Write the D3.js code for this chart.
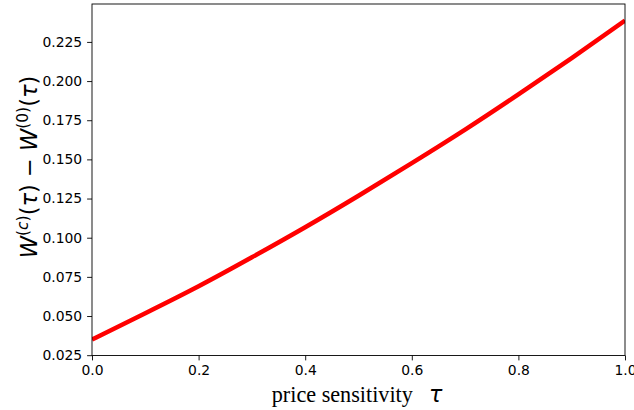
<!DOCTYPE html>
<html>
<head>
<meta charset="utf-8">
<script src="https://cdn.jsdelivr.net/npm/d3@7"></script>
<style>
  html, body { margin: 0; padding: 0; background: #fff; }
  svg { display: block; }
</style>
</head>
<body>
<svg id="chart" width="634" height="410"></svg>
<script>
// Data
const tau = [0.0, 0.1, 0.2, 0.3, 0.4, 0.5, 0.6, 0.7, 0.8, 0.9, 1.0];
const welfareDiff = [0.0350, 0.0518, 0.0690, 0.0875, 0.1067, 0.1268, 0.1476, 0.1690, 0.1915, 0.2147, 0.2386];
const xTicks = [0.0, 0.2, 0.4, 0.6, 0.8, 1.0];
const yTicks = [0.025, 0.050, 0.075, 0.100, 0.125, 0.150, 0.175, 0.200, 0.225];
const xDomain = [0, 1];
const yDomain = [0.0248, 0.2492];

const svg = d3.select("#chart");
const m = { left: 92, right: 625, top: 4, bottom: 355.5 };

const x = d3.scaleLinear().domain(xDomain).range([m.left, m.right]);
const y = d3.scaleLinear().domain(yDomain).range([m.bottom, m.top]);

// curve
const data = tau.map((t, i) => ({ t, v: welfareDiff[i] }));
const line = d3.line().x(d => x(d.t)).y(d => y(d.v)).curve(d3.curveNatural);

svg.append("defs").append("clipPath").attr("id", "clip")
  .append("rect").attr("x", m.left).attr("y", m.top)
  .attr("width", m.right - m.left).attr("height", m.bottom - m.top);

svg.append("path")
  .datum(data)
  .attr("clip-path", "url(#clip)")
  .attr("d", line)
  .attr("fill", "none")
  .attr("stroke", "#ff0000")
  .attr("stroke-width", 4.5)
  .attr("stroke-linecap", "butt");

// axes
const fontTick = "'DejaVu Sans', sans-serif";
const xAxis = d3.axisBottom(x).tickValues(xTicks).tickFormat(d3.format(".1f")).tickSize(4.9).tickPadding(4.9);
const yAxis = d3.axisLeft(y).tickValues(yTicks).tickFormat(d3.format(".3f")).tickSize(4.9).tickPadding(4.9);

const gx = svg.append("g").attr("transform", `translate(0,${m.bottom})`).call(xAxis);
const gy = svg.append("g").attr("transform", `translate(${m.left},0)`).call(yAxis);
[gx, gy].forEach(g => {
  g.select(".domain").remove();
  g.selectAll(".tick line").attr("stroke", "#000").attr("stroke-width", 0.9);
  g.selectAll(".tick text").attr("fill", "#000").style("font-family", fontTick).style("font-size", "13.9px");
});

// frame
svg.append("rect")
  .attr("x", m.left).attr("y", m.top)
  .attr("width", m.right - m.left).attr("height", m.bottom - m.top)
  .attr("fill", "none").attr("stroke", "#000").attr("stroke-width", 0.9);

// x label
const xl = svg.append("text")
  .attr("x", 357).attr("y", 402)
  .attr("text-anchor", "middle")
  .style("font-family", "'Liberation Serif', 'Times New Roman', serif")
  .style("font-size", "22.2px")
  .attr("fill", "#000");
xl.append("tspan").text("price sensitivity");
xl.append("tspan").attr("dx", 16)
  .style("font-family", "'DejaVu Sans', sans-serif")
  .style("font-style", "italic")
  .text("τ");

// y label
const yl = svg.append("text")
  .attr("transform", "translate(37,167) rotate(-90)")
  .attr("text-anchor", "middle")
  .style("font-family", "'DejaVu Sans', sans-serif")
  .style("font-size", "22.5px")
  .attr("fill", "#000");
const sup = 15.5;
yl.append("tspan").style("font-style", "italic").text("W");
yl.append("tspan").attr("dy", -9).style("font-size", sup + "px").text("(");
yl.append("tspan").style("font-size", sup + "px").style("font-style", "italic").text("c");
yl.append("tspan").style("font-size", sup + "px").text(")");
yl.append("tspan").attr("dy", 9).text("(");
yl.append("tspan").style("font-style", "italic").text("τ");
yl.append("tspan").text(") − ");
yl.append("tspan").style("font-style", "italic").text("W");
yl.append("tspan").attr("dy", -9).style("font-size", sup + "px").text("(0)");
yl.append("tspan").attr("dy", 9).text("(");
yl.append("tspan").style("font-style", "italic").text("τ");
yl.append("tspan").text(")");
</script>
</body>
</html>
